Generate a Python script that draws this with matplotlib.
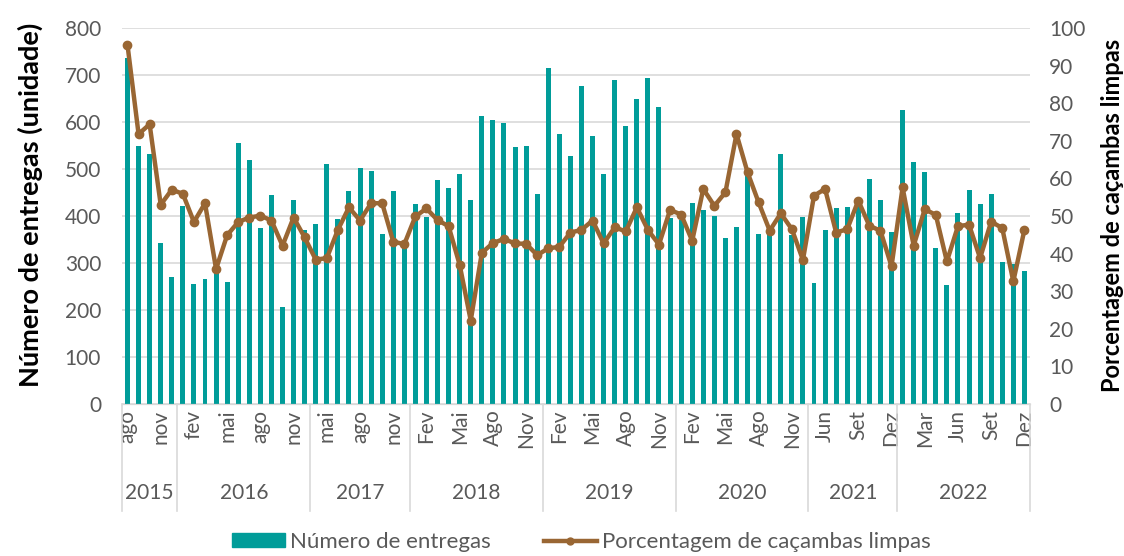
import numpy as np
import matplotlib.pyplot as plt
from matplotlib.patches import Rectangle
from matplotlib.lines import Line2D
import matplotlib.transforms as mtransforms

plt.rcParams['font.family'] = ['Lato', 'DejaVu Sans']

# Categories (months grouped by year)
meses_min = ['jan', 'fev', 'mar', 'abr', 'mai', 'jun', 'jul', 'ago', 'set', 'out', 'nov', 'dez']
meses_mai = ['Jan', 'Fev', 'Mar', 'Abr', 'Mai', 'Jun', 'Jul', 'Ago', 'Set', 'Out', 'Nov', 'Dez']
anos = [2015, 2016, 2017, 2018, 2019, 2020, 2021, 2022]
mes_inicial = [8, 1, 4, 1, 1, 1, 5, 1]   # first month present in each year

meses = []
ano_de = []
for ano, m0 in zip(anos, mes_inicial):
    nomes = meses_min if ano <= 2017 else meses_mai
    for m in range(m0, 13):
        meses.append(nomes[m - 1])
        ano_de.append(ano)

# Series
entregas = [736, 550, 532, 342, 270,
            422, 255, 266, 295, 259, 556, 520, 375, 444, 207, 433, 370,
            383, 511, 394, 454, 503, 496, 362, 454, 340,
            426, 398, 477, 460, 490, 434, 612, 604, 598, 547, 548, 447,
            715, 574, 528, 677, 570, 490, 689, 592, 649, 694, 632, 396,
            392, 427, 412, 400, 354, 377, 487, 361, 365, 532, 360, 397,
            257, 370, 417, 420, 425, 479, 434, 367,
            626, 514, 494, 331, 253, 407, 455, 426, 447, 302, 298, 284]
limpas = [95.5, 71.8, 74.4, 53.0, 57.0,
          55.9, 48.4, 53.4, 35.9, 44.9, 48.4, 49.6, 50.1, 48.8, 42.1, 49.6, 44.3,
          38.4, 38.8, 46.3, 52.3, 48.8, 53.4, 53.4, 43.2, 42.5,
          49.9, 52.0, 48.9, 47.3, 37.0, 22.2, 40.2, 42.8, 43.9, 42.7, 42.6, 39.6,
          41.4, 41.8, 45.6, 46.3, 48.8, 42.7, 47.0, 45.9, 52.3, 46.3, 42.4, 51.6,
          50.4, 43.4, 57.2, 52.7, 56.3, 71.8, 61.6, 53.6, 46.1, 50.7, 46.5, 38.3,
          55.4, 57.2, 45.6, 46.5, 54.1, 47.4, 46.1, 36.6,
          57.6, 42.1, 51.8, 50.3, 37.9, 47.3, 47.7, 38.8, 48.5, 46.8, 32.6, 46.3]

teal = '#009C99'
marrom = '#996633'
cinza = '#595959'
grade = '#D9D9D9'

x = np.arange(len(meses))

fig = plt.figure(figsize=(11.24, 5.56), dpi=100)
ax = fig.add_axes([0.1085, 0.2734, 0.8078, 0.6762])
ax2 = ax.twinx()

ax.bar(x, entregas, width=0.45, color=teal, zorder=2)
ax2.plot(x, limpas, color=marrom, lw=3.2, marker='o', ms=6, zorder=3)

ax.set_xlim(-0.5, len(meses) - 0.5)
ax.set_ylim(0, 800)
ax.set_yticks(np.arange(0, 801, 100))
ax2.set_ylim(0, 100)
ax2.set_yticks(np.arange(0, 101, 10))
ax.yaxis.grid(True, color=grade, lw=1.2, zorder=0)
ax.set_axisbelow(True)

for a in (ax, ax2):
    for s in ['top', 'left', 'right']:
        a.spines[s].set_visible(False)
    a.spines['bottom'].set_color(grade)
    a.tick_params(length=0, labelsize=15, labelcolor=cinza)
ax.tick_params(axis='y', pad=15)
ax2.tick_params(axis='y', pad=14)

# Month labels every 3rd category
idx = x[::3]
ax.set_xticks(idx)
ax.set_xticklabels([meses[i] for i in idx], rotation=90, fontsize=15, color=cinza)
ax.tick_params(axis='x', pad=4)

# Year row and separators
trans = mtransforms.blended_transform_factory(ax.transData, ax.transAxes)
limites = [-0.5]
for ano in anos:
    pos = [i for i, a in enumerate(ano_de) if a == ano]
    ax.text(np.mean(pos), -0.238, str(ano), transform=trans, ha='center', va='center',
            fontsize=15, color=cinza)
    limites.append(pos[-1] + 0.5)
for b in limites:
    ax.plot([b, b], [0, -0.285], transform=trans, color=grade, lw=1.2, clip_on=False)

fig.text(0.027, 0.631, 'Número de entregas (unidade)', rotation=90, ha='center', va='center',
         fontsize=19.5, fontweight='bold', color='black')
fig.text(0.99, 0.613, 'Porcentagem de caçambas limpas', rotation=90, ha='center', va='center',
         fontsize=17, fontweight='bold', color='black')

handles = [Rectangle((0, 0), 1, 1, color=teal),
           Line2D([0], [0], color=marrom, lw=3.2, marker='o', ms=5)]
fig.legend(handles, ['Número de entregas', 'Porcentagem de caçambas limpas'],
           loc='center', bbox_to_anchor=(0.517, 0.025), ncol=2, frameon=False,
           fontsize=16, labelcolor=cinza, handlelength=2.4, handleheight=0.6,
           handletextpad=0.2, columnspacing=2.4)

fig.savefig('out.png', dpi=100)
